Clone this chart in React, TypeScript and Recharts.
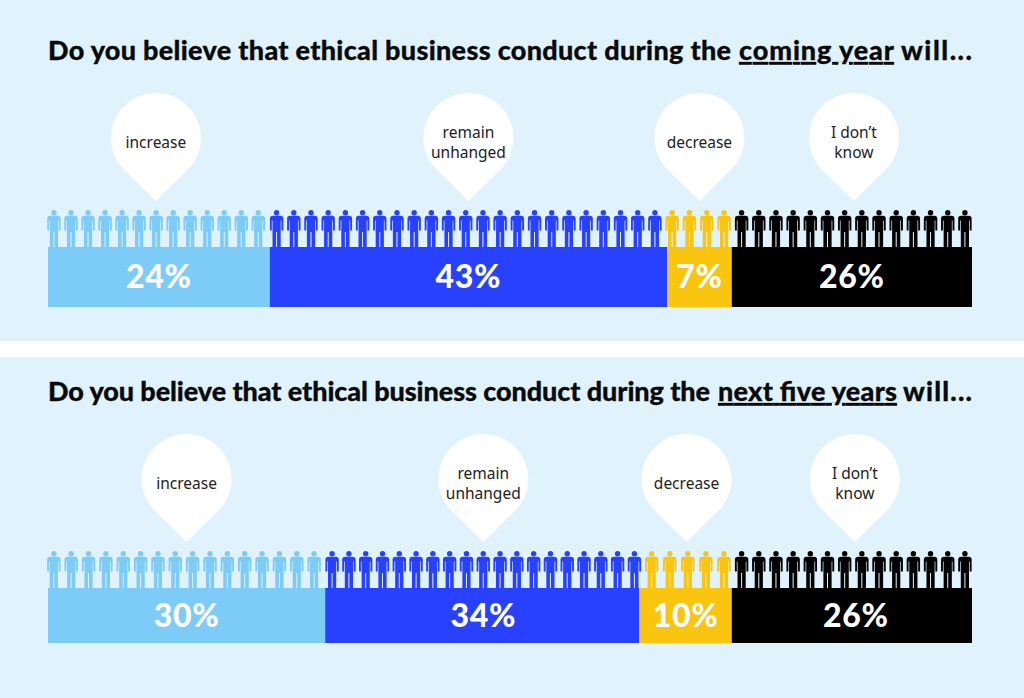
import React from "react";
import { BarChart, Bar, XAxis, YAxis, LabelList } from "recharts";

const categories = ["increase", "remain unhanged", "decrease", "I don't know"];
const pinLines = [["increase"], ["remain", "unhanged"], ["decrease"], ["I don’t", "know"]];
const comingYearValues = [24, 43, 7, 26];
const nextFiveValues = [30, 34, 10, 26];
const comingYearPeople = [13, 23, 4, 14];
const nextFivePeople = [16, 19, 5, 14];
const colors = ["#7DCCF8", "#2840FF", "#F9C50E", "#000000"];

const WIDTH = 1024;
const HEIGHT = 698;
const TITLE_FONT = "Lato, sans-serif";
const layer: React.CSSProperties = { position: "absolute", left: 0, top: 0 };

function buildRow(name: string, values: number[]) {
  const row: Record<string, any> = { name };
  categories.forEach((c, i) => {
    row[c] = values[i];
  });
  return [row];
}

function buildPeople(count: number, group: number) {
  const people: { id: number; group: number; value: number }[] = [];
  for (let i = 0; i < count; i++) {
    people.push({ id: i, group, value: 1 });
  }
  return people;
}

// one pictogram figure, fitted into the band the bar got from the scale
function Person(props: any) {
  const { x, y, width, height, payload } = props;
  const sy = height / 37;
  const left = x + width / 2 - 6.7;
  return (
    <g transform={`translate(${left} ${y}) scale(1 ${sy})`} fill={colors[payload.group]}>
      <circle cx={6.7} cy={2.7} r={2.7} />
      <path d="M0 20.5 V8.6 Q0 5.8 3 5.8 H10.4 Q13.4 5.8 13.4 8.6 V20.5 H11.5 V10.5 H10.8 V37 H7.2 V22 H6.2 V37 H2.6 V10.5 H1.9 V20.5 Z" />
    </g>
  );
}

function Pin(props: any) {
  const box = props.viewBox ?? props;
  const lines: string[] = props.lines;
  const cx = box.x + box.width / 2 + (props.shift ?? 0);
  const cy = box.y - 109;
  const tip = box.y - 46;
  const first = lines.length === 1 ? cy + 10 : cy;
  return (
    <g>
      <path
        d={`M${cx} ${tip} L${cx - 31.5} ${cy + 32.1} A45 45 0 1 1 ${cx + 31.5} ${cy + 32.1} Z`}
        fill="#ffffff"
      />
      {lines.map((line, i) => (
        <text
          key={line}
          x={cx}
          y={first + i * 20}
          textAnchor="middle"
          fontFamily="'Noto Sans', sans-serif"
          fontSize={15.5}
          fill="#222222"
        >
          {line}
        </text>
      ))}
    </g>
  );
}

function Percent(props: any) {
  const box = props.viewBox ?? props;
  return (
    <text
      x={box.x + box.width / 2 + (props.shift ?? 0)}
      y={box.y + box.height / 2 + 11}
      textAnchor="middle"
      fontFamily={TITLE_FONT}
      fontWeight={900}
      fontSize={32}
      letterSpacing={0.7}
      fill="#ffffff"
    >
      {props.value}%
    </text>
  );
}

interface PanelProps {
  name: string;
  values: number[];
  people: number[];
  peopleSpans: number[][];
  pinShifts: number[];
  labelShifts: number[];
  barTop: number;
  barBottom: number;
}

function Panel({ name, values, people, peopleSpans, pinShifts, labelShifts, barTop, barBottom }: PanelProps) {
  return (
    <>
      {people.map((count, group) => {
        // span = centre of first and last figure of the group
        const [first, last] = peopleSpans[group];
        const pitch = (last - first) / (count - 1);
        return (
          <div style={layer} key={group}>
            <BarChart
              width={WIDTH}
              height={HEIGHT}
              data={buildPeople(count, group)}
              barCategoryGap={0}
              margin={{
                top: barTop - 37,
                bottom: HEIGHT - barTop,
                left: first - pitch / 2,
                right: WIDTH - last - pitch / 2,
              }}
            >
              <XAxis dataKey="id" type="category" hide />
              <YAxis type="number" domain={[0, 1]} hide />
              <Bar dataKey="value" shape={Person} isAnimationActive={false} />
            </BarChart>
          </div>
        );
      })}
      <div style={layer}>
        <BarChart
          width={WIDTH}
          height={HEIGHT}
          layout="vertical"
          data={buildRow(name, values)}
          barCategoryGap={0}
          margin={{ top: barTop, bottom: HEIGHT - barBottom, left: 48, right: 52 }}
        >
          <XAxis type="number" domain={[0, 100]} hide />
          <YAxis type="category" dataKey="name" hide />
          {categories.map((c, i) => (
            <Bar key={c} dataKey={c} stackId="share" fill={colors[i]} isAnimationActive={false}>
              <LabelList dataKey={c} content={<Percent shift={labelShifts[i]} />} />
              <LabelList dataKey={c} content={<Pin lines={pinLines[i]} shift={pinShifts[i]} />} />
            </Bar>
          ))}
        </BarChart>
      </div>
    </>
  );
}

interface TitleProps {
  y: number;
  lead: string;
  mark: string;
  markStart: number;
  markEnd: number;
  tailStart: number;
}

function Title({ y, lead, mark, markStart, markEnd, tailStart }: TitleProps) {
  const base = {
    y: 40,
    lengthAdjust: "spacing",
    fontFamily: TITLE_FONT,
    fontWeight: 900,
    fontSize: 27,
    fill: "#0a0a0a",
    stroke: "#0a0a0a",
    strokeWidth: 0.3,
  };
  return (
    <svg width={WIDTH} height={60} style={{ position: "absolute", left: 0, top: y - 40 }}>
      <text {...base} x={48} textLength={markStart - 8 - 48}>
        {lead}
      </text>
      <text {...base} x={markStart} textLength={markEnd - markStart} textDecoration="underline">
        {mark}
      </text>
      <text {...base} x={tailStart} textLength={972 - tailStart}>
        will...
      </text>
    </svg>
  );
}

export default function App() {
  return (
    <div
      style={{
        position: "absolute",
        left: 0,
        top: 0,
        width: WIDTH,
        height: HEIGHT,
        background: "#E0F3FD",
        overflow: "hidden",
      }}
    >
      <div style={{ position: "absolute", left: 0, top: 341, width: WIDTH, height: 16, background: "#fff" }} />
      <Title
        y={60}
        lead="Do you believe that ethical business conduct during the"
        mark="coming year"
        markStart={739}
        markEnd={894}
        tailStart={901}
      />
      <Title
        y={401}
        lead="Do you believe that ethical business conduct during the"
        mark="next five years"
        markStart={718}
        markEnd={897}
        tailStart={903}
      />
      <Panel
        name="coming year"
        values={comingYearValues}
        people={comingYearPeople}
        peopleSpans={[[54, 258.3], [276.7, 655], [672.3, 724.3], [741.7, 965]]}
        pinShifts={[-3, 0, 0, 2]}
        labelShifts={[0, 0, 0, 0]}
        barTop={247}
        barBottom={307}
      />
      <Panel
        name="next five years"
        values={nextFiveValues}
        people={nextFivePeople}
        peopleSpans={[[54, 314.3], [332, 634.3], [651.7, 724], [741.7, 965]]}
        pinShifts={[0, 1, 1, 3]}
        labelShifts={[0, 1, 0, 4]}
        barTop={588}
        barBottom={643}
      />
    </div>
  );
}
